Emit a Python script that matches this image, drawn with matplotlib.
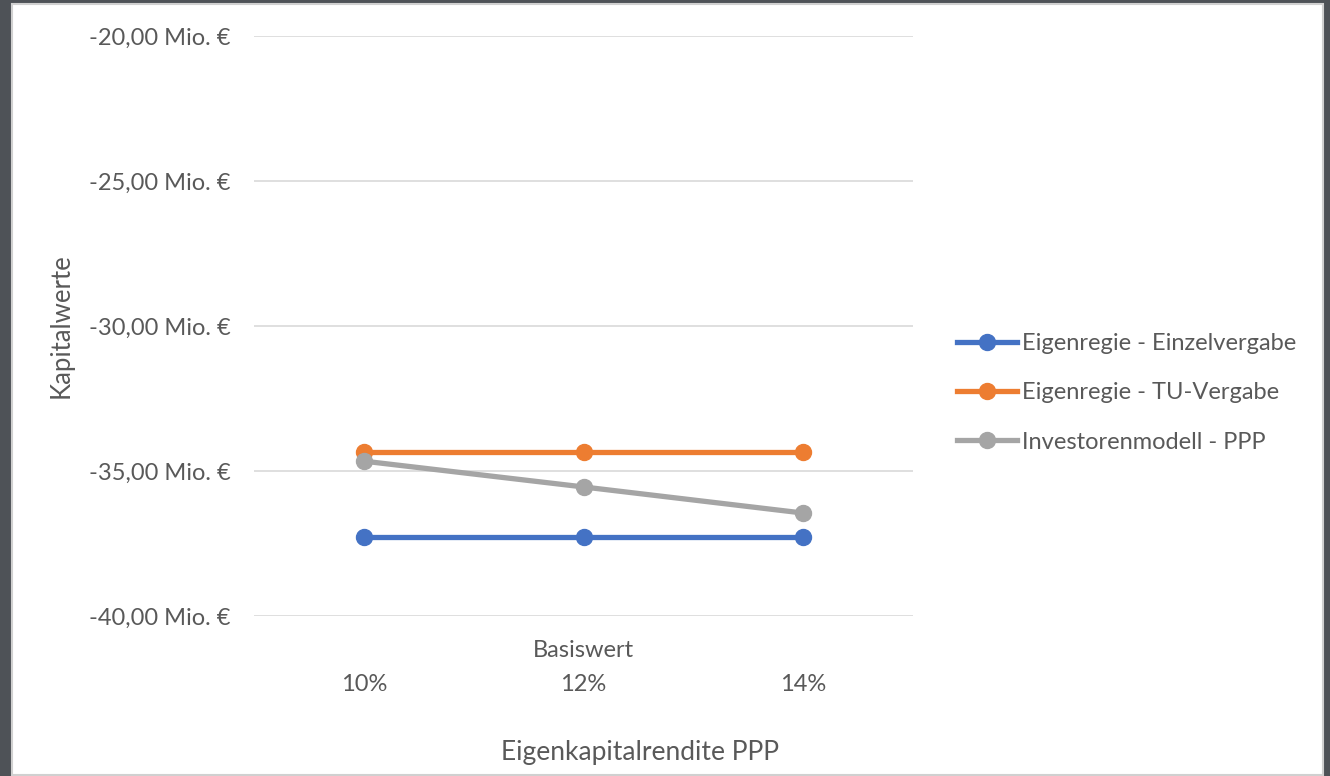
import matplotlib.pyplot as plt
from matplotlib.patches import Rectangle

# data
categories = ["10%", "12%", "14%"]
einzelvergabe = [-37.28, -37.28, -37.28]
tu_vergabe = [-34.33, -34.33, -34.33]
ppp = [-34.66, -35.55, -36.45]
yticks = [-40, -35, -30, -25, -20]
ytick_labels = ["-40,00 Mio. €", "-35,00 Mio. €", "-30,00 Mio. €", "-25,00 Mio. €", "-20,00 Mio. €"]

plt.rcParams['font.family'] = ['Lato', 'DejaVu Sans']
txt = "#595959"

W, H = 1330, 776
fig = plt.figure(figsize=(W / 100, H / 100), dpi=100)
fig.patch.set_facecolor("#4E5257")
# white page with thin light border
fig.patches.append(Rectangle((12 / W, 1 / H), 1311 / W, 771 / H, transform=fig.transFigure,
                             facecolor="white", edgecolor="#D0D0D0", linewidth=1.5, zorder=-5))

ax = fig.add_axes([254 / W, 1 - 616 / H, 659 / W, 580 / H])
ax.set_facecolor("none")

x = range(len(categories))
ax.plot(x, einzelvergabe, color="#4472C4", lw=3.8, marker="o", ms=11.5, label="Eigenregie - Einzelvergabe", zorder=3)
ax.plot(x, tu_vergabe, color="#ED7D31", lw=3.8, marker="o", ms=11.5, label="Eigenregie - TU-Vergabe", zorder=3)
ax.plot(x, ppp, color="#A5A5A5", lw=3.8, marker="o", ms=11.5, label="Investorenmodell - PPP", zorder=4)

ax.set_xlim(-0.5, 2.5)
ax.set_ylim(-40, -20)
ax.set_yticks(yticks)
ax.set_yticklabels(ytick_labels)
ax.set_xticks(list(x))
ax.set_xticklabels(categories)
ax.grid(axis="y", color="#D9D9D9", lw=1.2)
ax.set_axisbelow(True)
for s in ax.spines.values():
    s.set_visible(False)
ax.tick_params(length=0, colors=txt, labelsize=17)
ax.tick_params(axis="y", pad=17)
ax.tick_params(axis="x", pad=42)

ax.text(1, -41.2, "Basiswert", ha="center", va="center", color=txt, fontsize=17)

ax.set_ylabel("Kapitalwerte", color=txt, fontsize=18.5, labelpad=11)
ax.set_xlabel("Eigenkapitalrendite PPP", color=txt, fontsize=19, labelpad=29)
ax.xaxis.set_label_coords(0.586, -0.213)

leg = ax.legend(loc="center left", bbox_to_anchor=(1.034, 0.385), frameon=False, fontsize=17,
                handlelength=2.55, handletextpad=0.2, labelspacing=1.2, labelcolor=txt)

fig.savefig("out.png", dpi=100)
